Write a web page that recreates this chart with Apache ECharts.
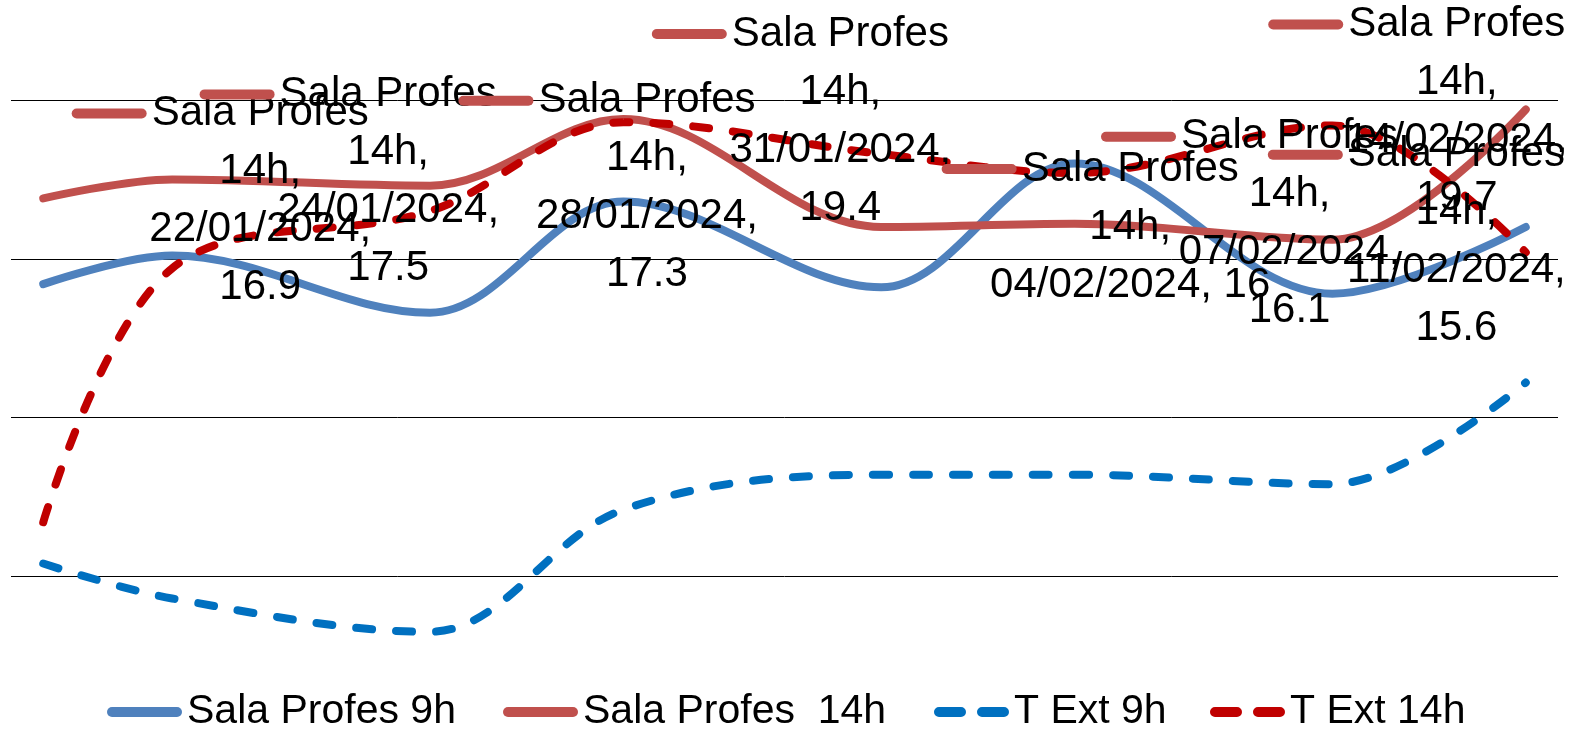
<!DOCTYPE html>
<html>
<head>
<meta charset="utf-8">
<title>Sala Profes / T Ext</title>
<script src="https://cdn.jsdelivr.net/npm/echarts@6/dist/echarts.min.js"></script>
<style>
  html, body { margin: 0; padding: 0; background: #fff; }
  #chart { width: 1588px; height: 735px; }
</style>
</head>
<body>
<div id="chart"></div>
<script>
// data
const dates = ['22/01/2024', '24/01/2024', '28/01/2024', '31/01/2024', '04/02/2024', '07/02/2024', '11/02/2024', '14/02/2024']
const salaProfes9h = [14.2, 15.1, 13.3, 16.8, 14.1, 18.0, 13.9, 16.0]
const salaProfes14h = [16.9, 17.5, 17.3, 19.4, 16, 16.1, 15.6, 19.7]
const tExt9h = [5.4, 4.3, 3.25, 7.1, 8.2, 8.2, 7.9, 11.1]
const tExt14h = [6.7, 14.7, 16.5, 19.3, 18.3, 17.7, 19.2, 15.2]
const seriesNames = ['Sala Profes 9h', 'Sala Profes  14h', 'T Ext 9h', 'T Ext 14h']
const yTicks = [0, 5, 10, 15, 20]

// where each data label sits, relative to its point (Excel had moved them by hand)
const labelOffsets = [[217, 2], [216, 2], [217, 2], [217, 2], [249, 0], [215, 0], [124, 2], [-69, 2]]
const legendLeft = [107, 503, 934, 1210]

const FONT = "'Liberation Sans', Arial, sans-serif"
const SMOOTH = 0.35
const DAY = 24 * 3600 * 1000

const toTime = (s) => {
  const [d, m, y] = s.split('/').map(Number)
  return Date.UTC(y, m - 1, d)
}
const times = dates.map(toTime)
const toPoints = (vals) => vals.map((v, i) => [times[i], v])

const solidIcon = 'path://M5,0H70A5,5,0,0,1,70,10H5A5,5,0,0,1,5,0Z'
const dashIcon = 'path://M5,0H27A5,5,0,0,1,27,10H5A5,5,0,0,1,5,0ZM48,0H70A5,5,0,0,1,70,10H48A5,5,0,0,1,48,0Z'

const lineSeries = (name, vals, color, dashed) => ({
  name,
  type: 'line',
  data: toPoints(vals),
  smooth: SMOOTH,
  showSymbol: false,
  clip: false,
  lineStyle: { color, width: 8, type: dashed ? [16, 24] : 'solid', cap: 'round', join: 'round' },
  itemStyle: { color },
  emphasis: { disabled: true }
})

const labelFormatter = (p) => {
  const parts = p.seriesName.split(/\s+/)
  const head = parts.slice(0, -1).join(' ')
  const tail = parts[parts.length - 1] + ','
  const dv = dates[p.dataIndex] + ', ' + p.value[1]
  const rest = dv.length <= 14 ? [dv] : [dates[p.dataIndex] + ',', String(p.value[1])]
  return ['{k|}{g|}{t|' + head + '}{sp|}', '{t|' + tail + '}']
    .concat(rest.map(l => '{t|' + l + '}'))
    .join('\n')
}

const s14 = lineSeries(seriesNames[1], salaProfes14h, '#C0504D', false)
s14.showSymbol = true
s14.showAllSymbol = true
s14.symbol = 'circle'
s14.symbolSize = 1
s14.data = salaProfes14h.map((v, i) => ({ value: [times[i], v], label: { offset: labelOffsets[i] } }))
s14.label = {
  show: true,
  position: 'inside',
  color: '#000',
  fontFamily: FONT,
  fontSize: 42,
  lineHeight: 58,
  formatter: labelFormatter,
  rich: {
    k: { width: 75, height: 10, backgroundColor: '#C0504D', borderRadius: 5, lineHeight: 58, align: 'center' },
    g: { width: 5, height: 10, lineHeight: 58, align: 'center' },
    sp: { width: 80, height: 10, lineHeight: 58, align: 'center' },
    t: { fontFamily: FONT, fontSize: 42, lineHeight: 58, color: '#000', align: 'center' }
  }
}

const chart = echarts.init(document.getElementById('chart'), null, { renderer: 'canvas' })

chart.setOption({
  animation: false,
  backgroundColor: '#fff',
  grid: { left: 11, right: 30, top: 100, height: 636, containLabel: false },
  xAxis: {
    type: 'time',
    min: times[0] - DAY / 2,
    max: times[times.length - 1] + DAY / 2,
    axisLine: { show: false },
    axisTick: { show: false },
    axisLabel: { show: false },
    splitLine: { show: false }
  },
  yAxis: {
    type: 'value',
    min: yTicks[0],
    max: yTicks[yTicks.length - 1],
    interval: yTicks[1] - yTicks[0],
    axisLine: { show: false },
    axisTick: { show: false },
    axisLabel: { show: false },
    splitLine: { lineStyle: { color: '#000', width: 1 } }
  },
  legend: seriesNames.map((n, i) => ({
    data: [{ name: n, icon: i < 2 ? solidIcon : dashIcon }],
    left: legendLeft[i],
    top: 690,
    padding: 0,
    itemWidth: 75,
    itemHeight: 10,
    selectedMode: false,
    textStyle: { fontFamily: FONT, fontSize: 41, lineHeight: 44, color: '#000' }
  })),
  series: [
    lineSeries(seriesNames[0], salaProfes9h, '#4F81BD', false),
    s14,
    lineSeries(seriesNames[2], tExt9h, '#0070C0', true),
    lineSeries(seriesNames[3], tExt14h, '#C00000', true)
  ]
})
</script>
</body>
</html>
